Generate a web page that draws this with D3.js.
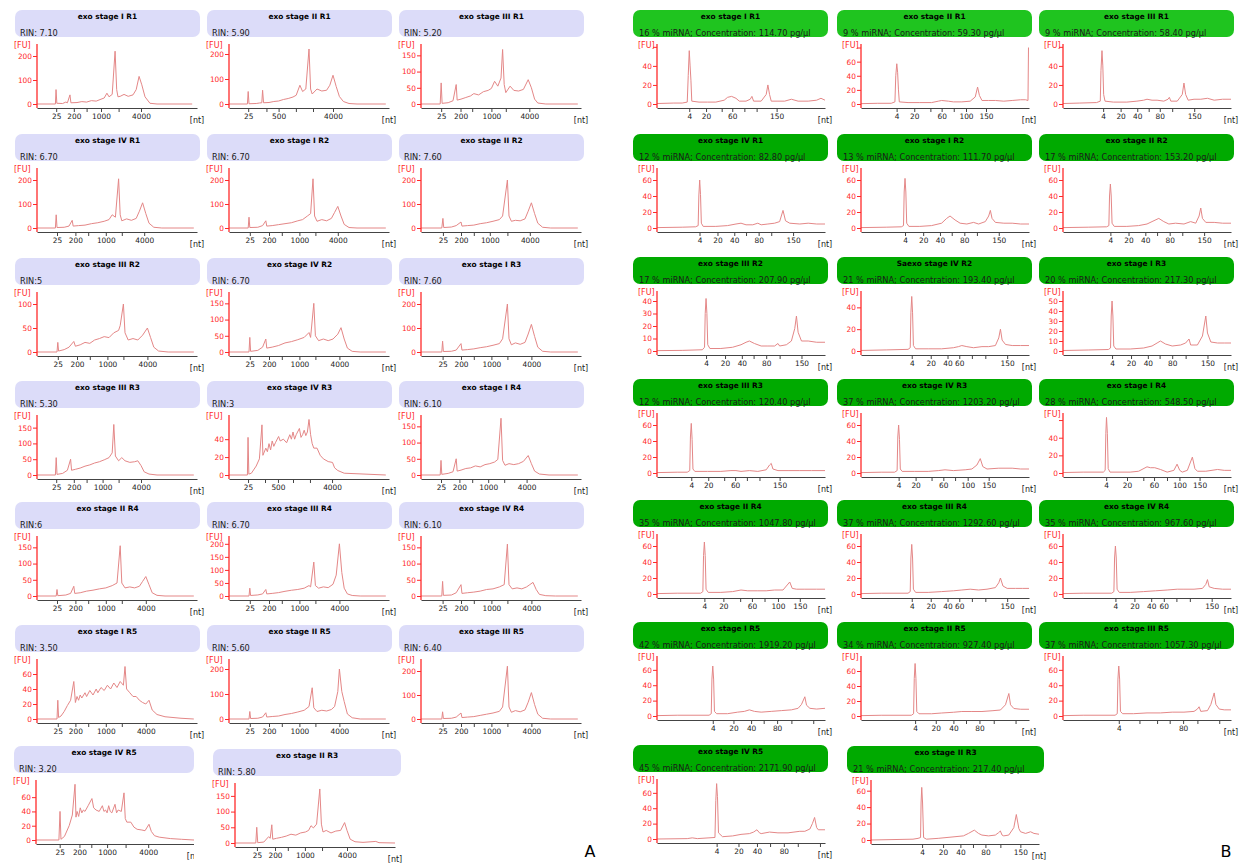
<!DOCTYPE html>
<html><head><meta charset="utf-8">
<script src="https://cdn.jsdelivr.net/npm/d3@7"></script>
<style>body{margin:0;background:#fff}svg{display:block}text{font-family:"DejaVu Sans",Verdana,sans-serif}</style>
</head><body><svg id="c" width="1245" height="864"></svg>
<script>
// ---------------- DATA ----------------
const leftLadder = [25,200,500,1000,2000,4000];
const rightLadder = [4,20,40,60,80,100,150];

const leftTitles = ["exo stage I R1","exo stage II R1","exo stage III R1","exo stage IV R1","exo stage I R2","exo stage II R2","exo stage III R2","exo stage IV R2","exo stage I R3","exo stage III R3","exo stage IV R3","exo stage I R4","exo stage II R4","exo stage III R4","exo stage IV R4","exo stage I R5","exo stage II R5","exo stage III R5","exo stage IV R5","exo stage II R3"];
const leftSubs = ["RIN: 7.10","RIN: 5.90","RIN: 5.20","RIN: 6.70","RIN: 6.70","RIN: 7.60","RIN:5","RIN: 6.70","RIN: 7.60","RIN: 5.30","RIN:3","RIN: 6.10","RIN:6","RIN: 6.70","RIN: 6.10","RIN: 3.50","RIN: 5.60","RIN: 6.40","RIN: 3.20","RIN: 5.80"];
const leftYMax = [250,240,185,250,250,250,125,185,250,190,67,185,185,230,185,80,240,250,84,191];
const leftYTicks = [[0,100,200],[0,100,200],[0,50,100,150],[0,100,200],[0,100,200],[0,100,200],[0,50,100],[0,50,100,150],[0,100,200],[0,50,100,150],[0,20,40],[0,50,100,150],[0,50,100,150],[0,50,100,150,200],[0,50,100,150],[0,20,40,60],[0,100,200],[0,100,200],[0,20,40,60],[0,50,100,150]];
const leftTickPos = [
 [12,23,31,40,51,65],[12,23.4,31,41.8,52.5,65],[12.6,24.7,32,44,53,67.7],
 [12.5,24,32,43,53,67],[13,25,33,44,54,68],[13.7,25,33,43,54,68],
 [13,25,33,44,54,69],[13,25,33,44,54,69],[13.5,25,33,44,54,69],
 [12,23,31,41,51,65],[11.9,22.5,30.6,40,50.6,64.4],[12.5,24,32,42,52,66],
 [12.5,24,32,43,53,68],[13,25,33,44,54,69],[13.5,25,33,44,54,69],
 [13,24,32,43,53,68],[13,25,33,44,54,69],[13.5,25,33,44,54,69],
 [15,27.5,35,45,56.7,71],[13.7,25,33,43.7,54.4,70]];
const leftTickLabels = leftTitles.map((t,i)=> (i===1||i===10) ? ["25","","500","","","4000"] : ["25","200","","1000","","4000"]);
const leftTraces = [
 [[0,0],[11.5,0],[11.9,60],[12.4,3],[16,2],[18,8],[19,5],[20.6,38],[21.2,5],[25,6],[28,10],[31,8],[34,14],[37,12],[40,20],[42,25],[43.7,45],[45,30],[47,40],[48.8,220],[49.8,60],[50.6,30],[52,32],[54.4,40],[57,32],[60,38],[62,60],[63.8,115],[65.5,80],[67.5,30],[70.6,3],[75,0],[97,0]],
 [[0,0],[11.5,0],[12,50],[12.5,1],[17,2],[19,4],[20.5,5],[21,55],[21.6,5],[25,6],[28,10],[31,12],[34,18],[37,22],[40,28],[42,35],[44.3,75],[46,50],[48,60],[50,220],[51,60],[52,40],[55,60],[58,52],[61,55],[63,75],[65,115],[67,70],[69,30],[71.5,10],[75,2],[80,0],[98,0]],
 [[0,0],[12,0],[12.6,65],[13.2,2],[17,4],[20,10],[22,60],[22.6,12],[25,15],[28,20],[31,25],[33,32],[36,28],[39,38],[42,42],[44,48],[46,70],[48,55],[50,80],[51,168],[52,60],[53,35],[55.7,55],[58,42],[61,40],[64,45],[67,75],[69,50],[71,15],[73,3],[78,0],[98,0]],
 [[0,0],[11.5,0],[12,55],[12.5,2],[17,3],[20,8],[22,32],[22.6,8],[26,10],[30,12],[34,18],[38,22],[42,28],[45,35],[47,55],[49,45],[51,205],[52,55],[53,30],[56,38],[59,32],[62,40],[64,70],[66,105],[68,60],[70,20],[73,3],[78,0],[98,0]],
 [[0,0],[12,0],[12.5,45],[13,2],[18,3],[21,10],[23,30],[23.6,8],[27,10],[31,14],[35,18],[39,22],[43,30],[46,35],[49,50],[51,60],[52.5,205],[53.5,50],[55,28],[58,35],[61,30],[64,40],[66,65],[68,90],[70,50],[72,15],[75,2],[80,0],[98,0]],
 [[0,0],[13,0],[13.7,40],[14.2,2],[19,4],[22,10],[25,25],[25.6,8],[29,10],[33,12],[37,18],[41,22],[45,28],[49,35],[51,50],[54,200],[55,50],[56.5,28],[59,32],[62,30],[65,38],[67,70],[69,105],[71,60],[73,20],[76,3],[81,0],[98,0]],
 [[0,0],[12.5,0],[13,20],[13.5,2],[17,5],[20,10],[23,22],[24,12],[27,15],[30,20],[33,18],[36,25],[39,28],[42,32],[45,30],[48,40],[51,45],[52,55],[54,100],[55,40],[57,25],[60,28],[63,25],[66,35],[69,50],[71,30],[73,10],[76,2],[82,0],[98,0]],
 [[0,0],[12.5,0],[13,45],[13.5,2],[18,5],[21,15],[23,40],[23.6,12],[27,15],[31,20],[35,28],[39,32],[43,38],[47,45],[50,60],[51,45],[53,150],[54,50],[56,35],[59,40],[62,35],[65,40],[68,55],[70,75],[72,40],[74,12],[77,2],[82,0],[98,0]],
 [[0,0],[13,0],[13.5,45],[14,2],[19,3],[22,8],[25,35],[25.6,8],[29,10],[33,13],[37,18],[41,22],[45,28],[49,35],[51,55],[54,200],[55,55],[56.5,30],[59,38],[62,32],[65,40],[67,75],[69,115],[71,65],[73,20],[76,3],[81,0],[98,0]],
 [[0,0],[11.5,0],[12,55],[12.5,2],[16,5],[19,15],[21,50],[21.6,15],[24,18],[27,22],[30,28],[33,32],[36,38],[39,42],[42,48],[45,55],[47,70],[48,160],[49,60],[51,45],[53,55],[55,45],[58,40],[61,42],[63,45],[65,30],[67,10],[70,3],[75,0],[98,0]],
 [[0,0],[11.5,0],[11.9,42],[12.4,1],[14,2],[17,10],[19,18],[20.6,56],[21.2,22],[23,30],[24,26],[25,35],[26,28],[27,38],[28,32],[29,36],[31,43],[32,38],[34,40],[36,36],[38,45],[39,40],[40,48],[41,40],[42,45],[44,52],[45,42],[46,45],[47,50],[48,44],[49,48],[50,62],[51,45],[52,35],[53,30],[55,30],[57,22],[59,18],[62,15],[64.7,14],[66,8],[68,5],[72,2],[85,1],[98,0]],
 [[0,0],[12,0],[12.5,45],[13,2],[17,5],[20,10],[22,50],[22.6,12],[25,15],[28,20],[31,22],[34,28],[37,25],[40,32],[43,35],[46,40],[48,48],[50,175],[51,45],[52.5,30],[55,35],[58,32],[61,35],[64,42],[67,60],[69,35],[71,12],[74,3],[80,0],[98,0]],
 [[0,0],[12,0],[12.5,20],[13,1],[18,3],[21,8],[23,30],[23.6,8],[27,10],[31,15],[35,18],[39,22],[43,25],[47,32],[50,40],[52,155],[53,40],[55,25],[58,28],[61,25],[64,30],[66,45],[68,60],[70,35],[72,10],[75,2],[80,0],[98,0]],
 [[0,0],[12.5,0],[13,30],[13.5,2],[18,4],[21,8],[23,25],[23.6,8],[27,10],[31,13],[35,18],[39,22],[43,25],[47,30],[50,40],[51,35],[53,130],[54,40],[56,30],[59,35],[62,32],[65,45],[67,80],[69,200],[70.5,90],[72,30],[74,8],[77,2],[82,0],[98,0]],
 [[0,0],[13,0],[13.5,45],[14,2],[19,3],[22,10],[25,35],[25.6,8],[29,10],[33,12],[37,15],[41,20],[45,22],[49,28],[52,35],[54,160],[55,35],[57,22],[60,25],[63,22],[66,28],[68,35],[70,42],[72,20],[74,5],[78,1],[84,0],[98,0]],
 [[0,0],[12.5,0],[13,25],[13.5,2],[15,4],[17,10],[19,18],[21,25],[23,50],[24,22],[25,30],[26,25],[27,32],[28,28],[30,35],[31,30],[33,38],[35,32],[37,40],[38,35],[40,42],[42,38],[44,45],[46,40],[48,48],[50,42],[52,50],[54,45],[55,70],[56,40],[58,35],[60,30],[62,30],[64,25],[66,22],[68,20],[70,25],[72,12],[75,6],[80,3],[90,1],[98,0]],
 [[0,0],[12.5,0],[13,30],[13.5,2],[18,3],[21,8],[23,25],[23.6,8],[27,10],[31,12],[35,18],[39,22],[43,28],[47,35],[50,50],[52,125],[53,45],[55,30],[58,35],[61,32],[64,38],[66,50],[68,110],[69,200],[70.5,110],[72,70],[74,20],[77,5],[82,0],[98,0]],
 [[0,0],[13,0],[13.5,30],[14,2],[19,3],[22,8],[25,25],[25.6,6],[29,8],[33,10],[37,15],[41,20],[45,25],[49,32],[51,50],[54,220],[55,50],[56.5,28],[59,35],[62,30],[65,38],[67,70],[69,110],[71,60],[73,20],[76,3],[81,0],[98,0]],
 [[0,0],[14.5,0],[15.2,40],[15.8,1],[18,5],[21,20],[23,35],[24.7,78],[25.3,32],[26,40],[27,33],[28,45],[29,38],[30,42],[31,40],[33,48],[35.4,58],[36.5,45],[38,42],[40,40],[42,48],[43,40],[44,42],[45,38],[46,48],[47,40],[48,38],[50,50],[51,38],[52,42],[54,40],[55.7,66],[56.5,30],[57.5,25],[60,25],[62,18],[64,15],[67,14],[69,13],[71.5,22],[73,12],[75,6],[78,4],[85,2],[92,1],[100,0]],
 [[0,0],[13,0],[13.6,50],[14.2,1],[18,3],[21,20],[22,15],[23,58],[23.6,12],[26,15],[29,18],[32,22],[35,28],[38,25],[41,32],[44,35],[46,40],[47.5,55],[49,48],[51,60],[53,172],[54,60],[55,35],[57,40],[60,32],[63,38],[66,40],[68.5,65],[70,40],[72,12],[75,4],[80,2],[88,5],[90,1],[100,0]]
];

const rightTitles = ["exo stage I R1","exo stage II R1","exo stage III R1","exo stage IV R1","exo stage I R2","exo stage II R2","exo stage III R2","Saexo stage IV R2","exo stage I R3","exo stage III R3","exo stage IV R3","exo stage I R4","exo stage II R4","exo stage III R4","exo stage IV R4","exo stage I R5","exo stage II R5","exo stage III R5","exo stage IV R5","exo stage II R3"];
const rightSubs = ["16 % miRNA; Concentration: 114.70 pg/µl","9 % miRNA; Concentration: 59.30 pg/µl","9 % miRNA; Concentration: 58.40 pg/µl","12 % miRNA; Concentration: 82.80 pg/µl","13 % miRNA; Concentration: 111.70 pg/µl","17 % miRNA; Concentration: 153.20 pg/µl","17 % miRNA; Concentration: 207.90 pg/µl","21 % miRNA; Concentration: 193.40 pg/µl","20 % miRNA; Concentration: 217.30 pg/µl","12 % miRNA; Concentration: 120.40 pg/µl","37 % miRNA; Concentration: 1203.20 pg/µl","28 % miRNA; Concentration: 548.50 pg/µl","35 % miRNA; Concentration: 1047.80 pg/µl","37 % miRNA; Concentration: 1292.60 pg/µl","35 % miRNA; Concentration: 967.60 pg/µl","42 % miRNA; Concentration: 1919.20 pg/µl","34 % miRNA; Concentration: 927.40 pg/µl","37 % miRNA; Concentration: 1057.30 pg/µl","45 % miRNA; Concentration: 2171.90 pg/µl","21 % miRNA; Concentration: 217.40 pg/µl"];
const rightYMax = [63,85,63,75,75,75,48,55,60,75,75,68,75,75,75,78,80,78,78,73];
const rightYTicks = [[0,20,40,60],[0,20,40,60,80],[0,20,40,60],[0,20,40,60],[0,20,40,60],[0,20,40,60],[0,10,20,30,40],[0,20,40],[0,10,20,30,40,50],[0,20,40,60],[0,20,40,60],[0,20,40,60],[0,20,40,60],[0,20,40,60],[0,20,40,60],[0,20,40,60],[0,20,40,60],[0,20,40,60],[0,20,40,60],[0,20,40,60]];
const rightYHideTop = [true,true,true,false,false,false,false,false,false,false,false,true,false,false,false,false,false,false,false,false];
const rightTickPos = [
 [19.2,29.2,38.5,44.8,52,59.3,71.2],[21.2,31.7,41.3,48,55.2,62.5,74.4],[23.9,34.3,44.2,51,57.6,65,78.1],
 [25.3,36,46,53,60.5,68,81],[26.2,37,47,54,61.5,69,82],[28.2,39,49,56,63.5,71,84],
 [29.2,40.5,50.5,57.5,65,73,86],[30.2,41.5,51.5,58.5,66,74,87],[29.2,40.5,50.5,57.5,65,73,86],
 [20.4,30.5,40,46.5,53.5,61,73],[22.4,32.5,42,49,56,63.5,76],[25.7,38.1,47.8,54.2,61.9,69.3,81.3],
 [28.2,39.5,49.5,56.5,64,72,85],[30.2,41.5,51.5,58.5,66,74,87],[31.2,42.5,52.5,60,67.5,75.5,88.5],
 [33.2,45.5,56,63.5,71.5,80,93],[32.2,44.5,55,62.5,70.5,79,92],[33.2,45.5,56,63.5,71.5,80,93],
 [35.5,48.5,59.5,67.3,75.5,83.8,97],[30.4,42.9,53.2,60.7,68.1,77,88.9]];
const rightTickLabels = [
 ["4","20","","60","","","150"],["4","20","","60","","100","150"],["4","20","40","","80","","150"],
 ["4","20","40","","80","","150"],["4","20","40","","80","","150"],["4","20","40","","80","","150"],
 ["4","20","40","","80","","150"],["4","20","40","60","","","150"],["4","20","40","","80","","150"],
 ["4","20","","60","","","150"],["4","20","","60","","100","150"],["4","20","","60","","100","150"],
 ["4","20","","60","","100","150"],["4","20","40","60","","","150"],["4","20","40","60","","","150"],
 ["4","20","40","","80","",""],["4","20","40","","80","",""],["4","","","","80","",""],
 ["4","20","40","","80","",""],["4","20","40","","80","","150"]];
const rightTraces = [
 [[0,0.5],[10,1],[15,1],[18,2],[18.6,30],[19.2,56],[19.7,40],[20.2,25],[20.7,3],[25,2],[30,2],[35,2],[40,4],[42,7],[44.4,8],[47,6],[49,3],[53,3],[55.5,5],[56.5,8],[57.5,3],[62,3],[65,10],[66,20],[67,10],[68,3],[72,3],[76,3],[80,5],[84,3],[90,3],[95,4],[97.6,6],[100,4]],
 [[0,0.5],[10,1],[18,1],[20.2,3],[20.7,40],[21.3,57],[21.8,45],[22.3,20],[22.8,3],[28,2],[35,2],[42,2],[46,4],[48,5],[52,4],[55,3],[60,3],[65,4],[68,10],[69.4,24],[70.5,12],[72,5],[76,5],[80,5],[85,4],[90,5],[95,6],[98,6],[99.4,5],[99.7,80]],
 [[0,0.5],[10,1],[20,1.5],[22.2,3],[22.6,35],[23.2,56],[23.7,40],[24.2,10],[25,3],[30,2],[38,2],[44,3],[48,4],[50,5],[53,4],[56,4],[60,3],[62.5,5],[63.3,7],[64.2,3],[68,3],[71,10],[72,22],[73,10],[74.5,4],[78,5],[82,5],[86,6],[90,4],[95,5],[100,5]],
 [[0,0.5],[15,1],[23,1.5],[24.5,3],[24.9,40],[25.4,60],[25.9,42],[26.4,6],[27.5,2],[35,2],[42,3],[47,5],[50,6],[53,4],[57,4],[60,6],[62,4],[66,5],[70,6],[73,8],[75,22],[76.5,9],[79,6],[85,5],[90,6],[95,5],[100,5]],
 [[0,0.5],[15,1],[24,1.5],[25.3,3],[25.7,45],[26.2,62],[26.7,45],[27.2,6],[28.5,2],[35,2],[42,3],[48,6],[51,12],[53,15],[56,10],[59,6],[63,5],[67,7],[70,5],[74,8],[76,15],[77,22],[78,12],[80,7],[85,6],[90,6],[95,5],[100,5]],
 [[0,0.5],[15,1],[26,1.5],[27.3,3],[27.7,40],[28.2,55],[28.7,40],[29.2,6],[30.5,2],[38,2],[45,3],[50,5],[53,8],[57,12],[60,8],[63,5],[67,6],[72,5],[76,8],[79,6],[81,15],[82,25],[83,12],[85,7],[90,7],[95,6],[100,6]],
 [[0,0.3],[15,0.5],[27,1],[28.3,3],[28.7,30],[29.2,42],[29.7,30],[30.2,5],[31.5,2],[38,2],[45,3],[50,5],[53,7],[55,8],[58,6],[62,4],[66,4],[70,4],[72,6],[73,4],[77,5],[80,8],[82,18],[83,28],[84,15],[86,8],[90,8],[95,7],[100,7]],
 [[0,0.5],[15,1],[28,1.5],[29.3,3],[29.7,35],[30.2,50],[30.7,35],[31.2,5],[32.5,2],[40,2],[48,2],[55,3],[58,4],[60,5],[63,4],[67,3],[72,4],[76,4],[80,5],[82,12],[83,20],[84,10],[86,6],[90,5],[95,5],[100,5]],
 [[0,0.5],[15,1],[27,1.5],[28.3,3],[28.7,35],[29.2,50],[29.7,35],[30.2,5],[31.5,2],[40,2],[48,3],[53,5],[56,8],[58,10],[61,7],[65,5],[70,6],[73,8],[75,12],[76,6],[80,6],[83,15],[85,35],[86,18],[88,9],[92,8],[96,8],[100,8]],
 [[0,0.5],[12,1],[18,1],[19.5,3],[19.9,45],[20.4,62],[20.9,42],[21.4,5],[22.5,2],[30,2],[38,2],[44,3],[47,3],[50,2],[55,3],[60,2],[65,4],[67,10],[68,12],[69,5],[72,3],[78,3],[85,3],[92,3],[100,3]],
 [[0,0.5],[12,1],[20,1],[21.5,3],[21.9,45],[22.4,60],[22.9,42],[23.4,5],[24.5,2],[32,2],[40,2],[46,3],[50,4],[55,3],[62,4],[66,5],[69,10],[71,18],[72.5,8],[75,5],[82,6],[90,6],[95,5],[100,5]],
 [[0,0.5],[12,1],[24,1],[25.1,3],[25.5,45],[25.9,63],[26.4,45],[26.9,5],[28,1],[40,1],[45,2],[50,7],[52,6],[54.6,6],[58,4],[62,1],[66,3],[67.9,10],[69.5,3],[71,1],[74,3],[77,18],[78.5,5],[80,2],[85,2],[92,4],[96,3],[100,3]],
 [[0,0.5],[12,1],[26,1],[27.3,3],[27.7,48],[28.2,65],[28.7,48],[29.2,6],[30.5,2],[38,2],[45,3],[50,5],[54,4],[60,4],[65,4],[70,5],[75,5],[77,10],[79,15],[80.5,7],[83,6],[88,6],[95,6],[100,6]],
 [[0,0.5],[12,1],[28,1],[29.3,3],[29.7,45],[30.2,62],[30.7,45],[31.2,6],[32.5,2],[40,2],[48,3],[55,4],[60,5],[65,6],[70,5],[75,6],[80,8],[82,14],[83,20],[84.5,10],[87,7],[92,7],[96,7],[100,7]],
 [[0,0.5],[12,1],[29,1],[30.3,3],[30.7,45],[31.2,60],[31.7,45],[32.2,6],[33.5,2],[40,2],[48,3],[55,4],[62,5],[68,6],[72,6],[78,6],[83,7],[85,12],[86,18],[87,9],[90,7],[95,6],[100,6]],
 [[0,0.5],[12,1],[31,1],[32.3,3],[32.7,48],[33.2,65],[33.7,48],[34.2,6],[35.5,3],[42,3],[48,5],[52,6],[55,8],[58,6],[62,5],[68,6],[74,7],[80,8],[84,10],[86,15],[88,25],[89,14],[91,10],[95,9],[100,10]],
 [[0,0.5],[12,1],[30,1],[31.3,3],[31.7,50],[32.2,70],[32.7,50],[33.2,6],[34.5,3],[42,3],[48,4],[55,5],[60,6],[66,6],[72,6],[78,7],[83,8],[86,15],[88,30],[89,15],[91,10],[95,9],[100,9]],
 [[0,0.5],[12,1],[31,1],[32.3,3],[32.7,48],[33.2,65],[33.7,48],[34.2,6],[35.5,3],[42,3],[50,4],[58,4],[65,5],[72,5],[78,6],[80,9],[81,12],[82,6],[86,7],[88,15],[90,30],[91,15],[93,9],[96,8],[100,8]],
 [[0,0],[18,0.5],[21,1.5],[24,0.5],[34.5,2],[35,50],[35.5,72],[36,55],[36.6,8],[39,3],[45,4],[50,6],[55,7],[57.5,9],[59.5,12],[61,8],[62,7],[67,9],[72,8],[78,8],[85,10],[88,10],[91,13],[92.5,20],[93.8,28],[95,15],[96,12],[100,12]],
 [[0,0],[25,1],[28,2],[29.5,3],[29.8,45],[30.2,64],[30.7,45],[31.3,3],[33,1],[40,2],[50,4],[55,5],[58,8],[61.5,12],[64,8],[66,6],[70,5],[74,6],[76,9],[77,11],[78,6],[79,5],[82,6],[85,15],[86.5,31],[88,14],[89,10],[92,8],[95,10],[97,8],[100,7]]
];

// ---------------- LAYOUT ----------------
const leftPos = [[15,10],[207,10],[399,10],[15,134],[207,134],[399,134],[15,258],[207,258],[399,258],[15,381],[207,381],[399,381],[15,502],[207,502],[399,502],[15,625],[207,625],[399,625],[14,746],[213,749]];
const leftW = leftPos.map((p,i)=> i===18?180:(i===19?188:185));
const rightPos = [[633,10],[837,10],[1039,10],[633,134],[837,134],[1039,134],[633,257],[837,257],[1039,257],[633,379],[837,379],[1039,379],[633,500],[837,500],[1039,500],[633,622],[837,622],[1039,622],[633,745],[847,746]];
const rightW = rightPos.map((p,i)=> i===19?197:195);

const svg = d3.select("#c");
const defs = svg.append("defs");
const TRACE = "#e48787", AXR = "#ff2a2a", TXT = "#1a1a1a";
const FS_TITLE = "7.4px", FS_SUB = "8.2px", FS_TICK = "7.4px", FS_FU = "8px";

function drawChart(idx, side, o) {
  const g = svg.append("g");
  const hx=o.hx, hy=o.hy, hw=o.hw;
  const ax = hx + (side==="L"?22:24);
  const aEnd = hx + (side==="L"? (idx===18?180:182) : 192);
  const aTop = hy + 34, aBot = hy + 98;
  if (o.clipW) {
    defs.append("clipPath").attr("id","cl"+side+idx).append("rect").attr("x",hx-5).attr("y",hy-2).attr("width",o.clipW).attr("height",130);
    g.attr("clip-path",`url(#cl${side}${idx})`);
  }
  g.append("rect").attr("x",hx).attr("y",hy).attr("width",hw).attr("height",27).attr("rx",7)
    .attr("fill", o.fill);
  g.append("text").attr("x",hx+hw/2).attr("y",hy+9).attr("text-anchor","middle")
    .attr("font-size",FS_TITLE).attr("font-weight","bold").attr("fill","#000").text(o.title);
  g.append("text").attr("x",hx+(side==="L"?5:6)).attr("y",hy+26)
    .attr("font-size",FS_SUB).attr("fill",TXT).text(o.sub);
  const x = d3.scaleLinear().domain([0,100]).range([ax,aEnd]);
  const y = d3.scaleLinear().domain([0,o.ymax]).range([aBot-4,aTop]);
  g.append("text").attr("x", side==="L"? hx-1 : hx+5).attr("y",aTop+3.5)
    .attr("font-size",FS_FU).attr("fill",AXR).text("[FU]");
  const cid = "pc"+side+idx;
  defs.append("clipPath").attr("id",cid).append("rect").attr("x",ax).attr("y",aTop).attr("width",aEnd-ax).attr("height",aBot-aTop);
  g.append("path").datum(o.trace).attr("clip-path",`url(#${cid})`)
    .attr("fill","none").attr("stroke",TRACE).attr("stroke-width",1).attr("stroke-linejoin","round")
    .attr("d", d3.line().x(d=>x(d[0])).y(d=>y(d[1])));
  const yAx = d3.axisLeft(y).tickValues(o.yticks).tickSize(4).tickPadding(1)
    .tickFormat((d,i)=> (o.hideTop && i===o.yticks.length-1) ? "" : String(d));
  const gy = g.append("g").attr("transform",`translate(${ax},0)`).call(yAx);
  gy.select(".domain").remove();
  gy.selectAll("line").attr("stroke",AXR);
  gy.selectAll("text").attr("fill",AXR).attr("font-size",FS_TICK).attr("font-family","DejaVu Sans, sans-serif");
  g.append("line").attr("x1",ax).attr("x2",ax).attr("y1",aTop).attr("y2",aBot).attr("stroke",AXR).attr("stroke-width",1.3);
  const xAx = d3.axisBottom(x).tickValues(o.ticks).tickSize(4).tickSizeOuter(0).tickPadding(2)
    .tickFormat((d,i)=>o.tlabels[i]);
  const gx = g.append("g").attr("transform",`translate(0,${aBot})`).call(xAx);
  gx.select(".domain").attr("stroke","#444");
  gx.selectAll("line").attr("stroke","#444");
  gx.selectAll("text").attr("fill",TXT).attr("font-size",FS_TICK).attr("font-family","DejaVu Sans, sans-serif");
  g.append("text").attr("x",aEnd).attr("y",aBot+15).attr("text-anchor","middle")
    .attr("font-size",FS_FU).attr("fill",TXT).text("[nt]");
}

leftTitles.forEach((t,i)=>{
  drawChart(i,"L",{hx:leftPos[i][0],hy:leftPos[i][1],hw:leftW[i],title:t,sub:leftSubs[i],
    fill:"#dcdcf9",ymax:leftYMax[i],yticks:leftYTicks[i],hideTop:false,
    ticks:leftTickPos[i],tlabels:leftTickLabels[i],trace:leftTraces[i],clipW:i===18?185:null});
});
rightTitles.forEach((t,i)=>{
  drawChart(i,"R",{hx:rightPos[i][0],hy:rightPos[i][1],hw:rightW[i],title:t,sub:rightSubs[i],
    fill: i<3 ? "#1fc41f" : "#00aa00",ymax:rightYMax[i],yticks:rightYTicks[i],hideTop:rightYHideTop[i],
    ticks:rightTickPos[i],tlabels:rightTickLabels[i],trace:rightTraces[i]});
});

svg.append("text").attr("x",590).attr("y",857).attr("text-anchor","middle").attr("font-size","16px").attr("fill","#000").text("A");
svg.append("text").attr("x",1226).attr("y",857).attr("text-anchor","middle").attr("font-size","16px").attr("fill","#000").text("B");
</script></body></html>
